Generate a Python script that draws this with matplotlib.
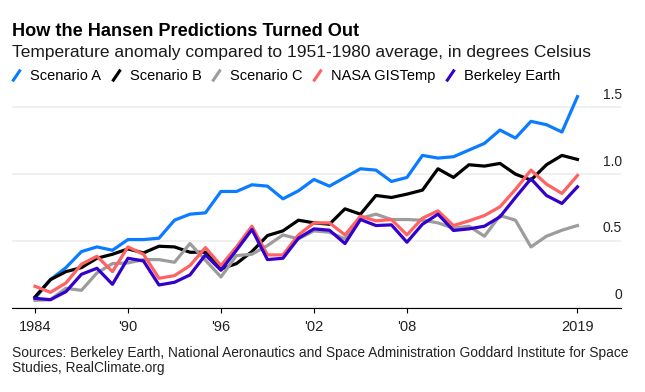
import matplotlib
matplotlib.use('Agg')
import matplotlib.pyplot as plt
from matplotlib.lines import Line2D
from matplotlib.transforms import offset_copy

plt.rcParams['font.family'] = ['Liberation Sans', 'DejaVu Sans']

# data, 1984-2019
years = list(range(1984, 2020))
scenario_a = [0.07, 0.21, 0.30, 0.42, 0.455, 0.43, 0.51, 0.51, 0.52, 0.655,
              0.70, 0.71, 0.87, 0.87, 0.92, 0.91, 0.815, 0.875, 0.96, 0.91,
              0.975, 1.04, 1.03, 0.945, 0.975, 1.14, 1.12, 1.13, 1.18, 1.23,
              1.33, 1.27, 1.395, 1.37, 1.315, 1.58]
scenario_b = [0.08, 0.21, 0.27, 0.30, 0.37, 0.40, 0.44, 0.41, 0.46, 0.455,
              0.415, 0.415, 0.29, 0.33, 0.42, 0.54, 0.575, 0.655, 0.635, 0.625,
              0.74, 0.70, 0.84, 0.825, 0.85, 0.88, 1.04, 0.975, 1.07, 1.06,
              1.08, 1.0, 0.955, 1.07, 1.14, 1.11]
scenario_c = [0.055, 0.06, 0.145, 0.13, 0.26, 0.33, 0.335, 0.36, 0.36, 0.34,
              0.48, 0.355, 0.23, 0.39, 0.40, 0.465, 0.545, 0.515, 0.575, 0.565,
              0.515, 0.67, 0.70, 0.66, 0.66, 0.655, 0.635, 0.595, 0.61, 0.535,
              0.69, 0.655, 0.455, 0.535, 0.58, 0.615]
nasa = [0.16, 0.115, 0.185, 0.325, 0.385, 0.27, 0.455, 0.40, 0.22, 0.24,
        0.315, 0.45, 0.315, 0.455, 0.61, 0.395, 0.395, 0.545, 0.635, 0.635,
        0.545, 0.685, 0.65, 0.66, 0.545, 0.67, 0.725, 0.615, 0.65, 0.69,
        0.755, 0.885, 1.03, 0.925, 0.855, 0.99]
berkeley = [0.07, 0.06, 0.12, 0.25, 0.295, 0.175, 0.37, 0.35, 0.17, 0.19,
            0.245, 0.395, 0.28, 0.43, 0.585, 0.36, 0.37, 0.52, 0.59, 0.58,
            0.48, 0.66, 0.615, 0.62, 0.49, 0.625, 0.70, 0.578, 0.59, 0.61,
            0.68, 0.825, 0.965, 0.84, 0.78, 0.905]

names = ['Scenario A', 'Scenario B', 'Scenario C', 'NASA GISTemp', 'Berkeley Earth']
colors = ['#0a7cff', '#000000', '#9c9c9c', '#ff6262', '#3300cc']
series = [scenario_a, scenario_b, scenario_c, nasa, berkeley]

xticks = [1984, 1990, 1996, 2002, 2008, 2019]
xlabels = ['1984', "'90", "'96", "'02", "'08", '2019']
yticks = [0, 0.5, 1.0, 1.5]
ylabels = ['0', '0.5', '1.0', '1.5']

fig = plt.figure(figsize=(6.45, 3.92), dpi=100)
ax = fig.add_axes([0.019, 0.2151, 0.9437, 0.552])

for vals, color in zip(series, colors):
    ax.plot(years, vals, color=color, lw=2.3)

ax.set_xlim(1982.535, 2021.806)
ax.set_ylim(0, 1.62)
ax.set_yticks(yticks)
ax.yaxis.grid(True, color='#efefef', lw=1.3)
ax.set_axisbelow(True)
ax.tick_params(axis='y', length=0, labelleft=False)

ax.set_xticks(xticks)
ax.set_xticklabels(xlabels)
ax.tick_params(axis='x', direction='out', length=3.6, width=0.8, pad=5,
               labelsize=10.5, labelcolor='#222222')

for s in ['top', 'left', 'right']:
    ax.spines[s].set_visible(False)
ax.spines['bottom'].set_linewidth(0.8)

lab_tr = offset_copy(ax.get_yaxis_transform(), fig=fig, x=1.3, y=8.5, units='dots')
for v, lab in zip(yticks, ylabels):
    ax.text(1.0, v, lab, transform=lab_tr, ha='right', va='baseline',
            fontsize=10, color='#222222')

# legend with slash markers
handles = [Line2D([], [], linestyle='none', marker=[(-0.34, -0.5), (0.34, 0.5)],
                  markersize=8.5, markeredgewidth=2.2, markeredgecolor=c,
                  markerfacecolor='none') for c in colors]
fig.legend(handles, names, loc='center left', bbox_to_anchor=(0.0164, 0.806),
           ncol=5, frameon=False, fontsize=10.5, handlelength=0.8,
           handletextpad=0.55, columnspacing=0.6, borderpad=0, borderaxespad=0)

fig.text(12.3 / 645, 1 - 36 / 392, 'How the Hansen Predictions Turned Out',
         fontsize=13.1, fontweight='bold', va='baseline', color='black')
fig.text(12.3 / 645, 1 - 56.7 / 392,
         'Temperature anomaly compared to 1951-1980 average, in degrees Celsius',
         fontsize=12.5, va='baseline', color='#1a1a1a')
fig.text(12.3 / 645, 1 - 356.7 / 392,
         'Sources: Berkeley Earth, National Aeronautics and Space Administration '
         'Goddard Institute for Space', fontsize=9.9, va='baseline', color='#222222')
fig.text(12.3 / 645, 1 - 371.7 / 392, 'Studies, RealClimate.org',
         fontsize=9.9, va='baseline', color='#222222')

fig.savefig('out.png', dpi=100)
